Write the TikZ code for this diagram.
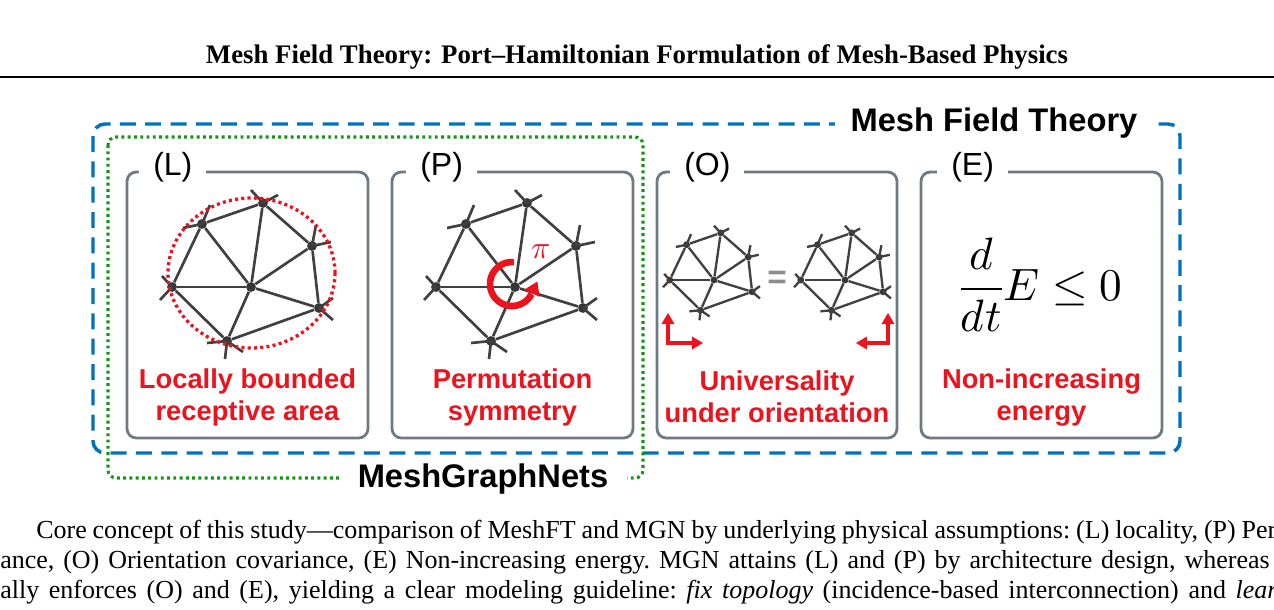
\documentclass[tikz,border=0pt]{standalone}
\usepackage{fontspec}
\usepackage{unicode-math}
\setmainfont{Liberation Serif}
\setmathfont{Latin Modern Math}
\newfontfamily\arialfont{Liberation Sans}
\usepackage{tikz}

% one triangulated patch: name prefix, centre, scale, extra style
\newcommand{\meshpatch}[4]{%
  \begin{scope}[shift={#2},scale=#3,#4]
    \foreach \v/\px/\py in {c/0/0,l/-79/0,ul/-49/-63,t/12/-84,ru/61/-41,rl/68/21,b/-24/54}
      \node[meshdot] (#1-\v) at (\px,\py) {};
    \foreach \v/\dx/\dy in {l/-10/-11,l/-12/13,ul/8/-19,ul/-19/4,t/-12/-13,t/15/-8,ru/4/-21,ru/19/-4,rl/14/-10,rl/14/12,b/-20/2,b/-2/18,b/16/11}
      \draw[meshedge] (#1-\v.center) -- ++(\dx,\dy);
    \foreach \a/\b in {c/l,c/ul,c/t,c/ru,c/rl,c/b,l/ul,ul/t,t/ru,ru/rl,rl/b,b/l}
      \draw[meshedge] (#1-\a) -- (#1-\b);
  \end{scope}}

\begin{document}
\begin{tikzpicture}[x=0.75pt,y=0.75pt,yscale=-1,xscale=1,
  panel/.style={draw={rgb, 255:red, 110; green, 122; blue, 131}, line width=2.1pt, rounded corners=7pt},
  panellab/.style={anchor=west, fill=white, inner xsep=10.5pt, inner ysep=1pt, font=\arialfont\fontsize{24}{28}\selectfont},
  redtext/.style={text={rgb, 255:red, 235; green, 20; blue, 30}, align=center, font=\arialfont\bfseries\fontsize{20.5}{24}\selectfont},
  frametitle/.style={fill=white, inner ysep=1pt, font=\arialfont\bfseries\fontsize{24.5}{28}\selectfont},
  meshdot/.style={circle, fill={rgb, 255:red, 55; green, 55; blue, 55}, inner sep=0pt, minimum size=7.4pt},
  meshedge/.style={draw={rgb, 255:red, 64; green, 64; blue, 64}, line width=2pt},
  small mesh/.style={meshdot/.append style={minimum size=5.2pt}, meshedge/.append style={line width=1.75pt}},
  redline/.style={draw={rgb, 255:red, 235; green, 20; blue, 30}, line width=2.6pt},
  redtip/.style={fill={rgb, 255:red, 235; green, 20; blue, 30}},
  capline/.style={anchor=base west, inner sep=0pt, font=\fontsize{19.5}{22.5}\selectfont\frenchspacing}
]
\path[use as bounding box] (0,0) rectangle (1274,610);
\clip (0,0) rectangle (1274,610);

% Text Node (running head)
\node[font=\bfseries\fontsize{20.1}{24}\selectfont] (head) at (637,57) {Mesh Field Theory: Port–Hamiltonian Formulation of Mesh-Based Physics};
%Straight Lines
\draw[line width=1.1pt] (0,77) -- (1274,77);

%Rounded Rect (Mesh Field Theory)
\draw[draw={rgb, 255:red, 0; green, 114; blue, 189}, line width=2.6pt, dash pattern=on 12pt off 7pt, rounded corners=9pt] (93,124) rectangle (1180,453);
%Rounded Rect (MeshGraphNets)
\draw[draw={rgb, 255:red, 20; green, 150; blue, 20}, line width=2.3pt, dash pattern=on 2.2pt off 2.5pt, rounded corners=6pt] (108,137) rectangle (643,478);

% Text Node
\node[frametitle, inner xsep=12pt] (mft) at (994,123) {Mesh Field Theory};
% Text Node
\node[frametitle, inner xsep=14pt] (mgn) at (483,479) {MeshGraphNets};

%Panels
\draw[panel] (127,172) rectangle (368,438);
\draw[panel] (392,172) rectangle (633,438);
\draw[panel] (657,172) rectangle (897,438);
\draw[panel] (921,172) rectangle (1162,438);
\node[panellab] (labL) at (139,167) {(L)};
\node[panellab] (labP) at (406,167) {(P)};
\node[panellab] (labO) at (670,167) {(O)};
\node[panellab] (labE) at (937,167) {(E)};

% (L) locality
\meshpatch{L}{(251,287)}{1}{}
\draw[draw={rgb, 255:red, 235; green, 20; blue, 30}, line width=2.5pt, dash pattern=on 2.3pt off 2.4pt] (251.5,273) ellipse (83.5 and 75);
\node[redtext] (txtL) at (247.5,397) {Locally bounded\\receptive area};

% (P) permutation
\meshpatch{P}{(515,287)}{1}{}
\draw[redline, line width=5pt] (512,284) ++(-85:22) arc (-85:-333:22);
\fill[redtip, shift={(537.4,281.5)}, rotate=-65] (0,0) -- (-13,-8.5) -- (-13,8.5) -- cycle;
\node[text={rgb, 255:red, 235; green, 20; blue, 30}, font=\fontsize{24}{26}\selectfont] (pi) at (541,252) {$\pi$};
\node[redtext] (txtP) at (512.5,397) {Permutation\\symmetry};

% (O) orientation
\meshpatch{Oa}{(714,280)}{0.56}{small mesh}
\meshpatch{Ob}{(845,280)}{0.56}{small mesh}
\node[text={rgb, 255:red, 140; green, 140; blue, 140}, font=\arialfont\bfseries\fontsize{25}{28}\selectfont] (eqO) at (777,280) {=};
\draw[redline] (668,323) -- (668,343) -- (694,343);
\fill[redtip, shift={(668,313)}, rotate=-90] (0,0) -- (-11,-6.5) -- (-11,6.5) -- cycle;
\fill[redtip, shift={(703,343)}, rotate=0] (0,0) -- (-11,-6.5) -- (-11,6.5) -- cycle;
\draw[redline] (888,323) -- (888,343) -- (866,343);
\fill[redtip, shift={(888,313)}, rotate=-90] (0,0) -- (-11,-6.5) -- (-11,6.5) -- cycle;
\fill[redtip, shift={(856,343)}, rotate=180] (0,0) -- (-11,-6.5) -- (-11,6.5) -- cycle;
\node[redtext] (txtO) at (777,397) {Universality\\under orientation};

% (E) energy
\node[font=\fontsize{34}{40}\selectfont] (dEdt) at (1041,285) {$\displaystyle\frac{d}{dt}E\leq 0$};
\node[redtext] (txtE) at (1041.5,397) {Non-increasing\\energy};

% Text Node (caption lines, justified)
\node[capline] (cap1) at (36,538) {\hbox to 930pt{Core concept of this study—comparison of MeshFT and MGN by underlying physical assumptions: (L) locality, (P) Per}};
\node[capline] (cap2) at (0,568) {\hbox to 952pt{ance, (O) Orientation covariance, (E) Non-increasing energy. MGN attains (L) and (P) by architecture design, whereas}};
\node[capline] (cap3) at (0,598) {\hbox to 958pt{ally enforces (O) and (E), yielding a clear modeling guideline: \textit{fix topology} (incidence-based interconnection) and \textit{lear}}};

\end{tikzpicture}
\end{document}
